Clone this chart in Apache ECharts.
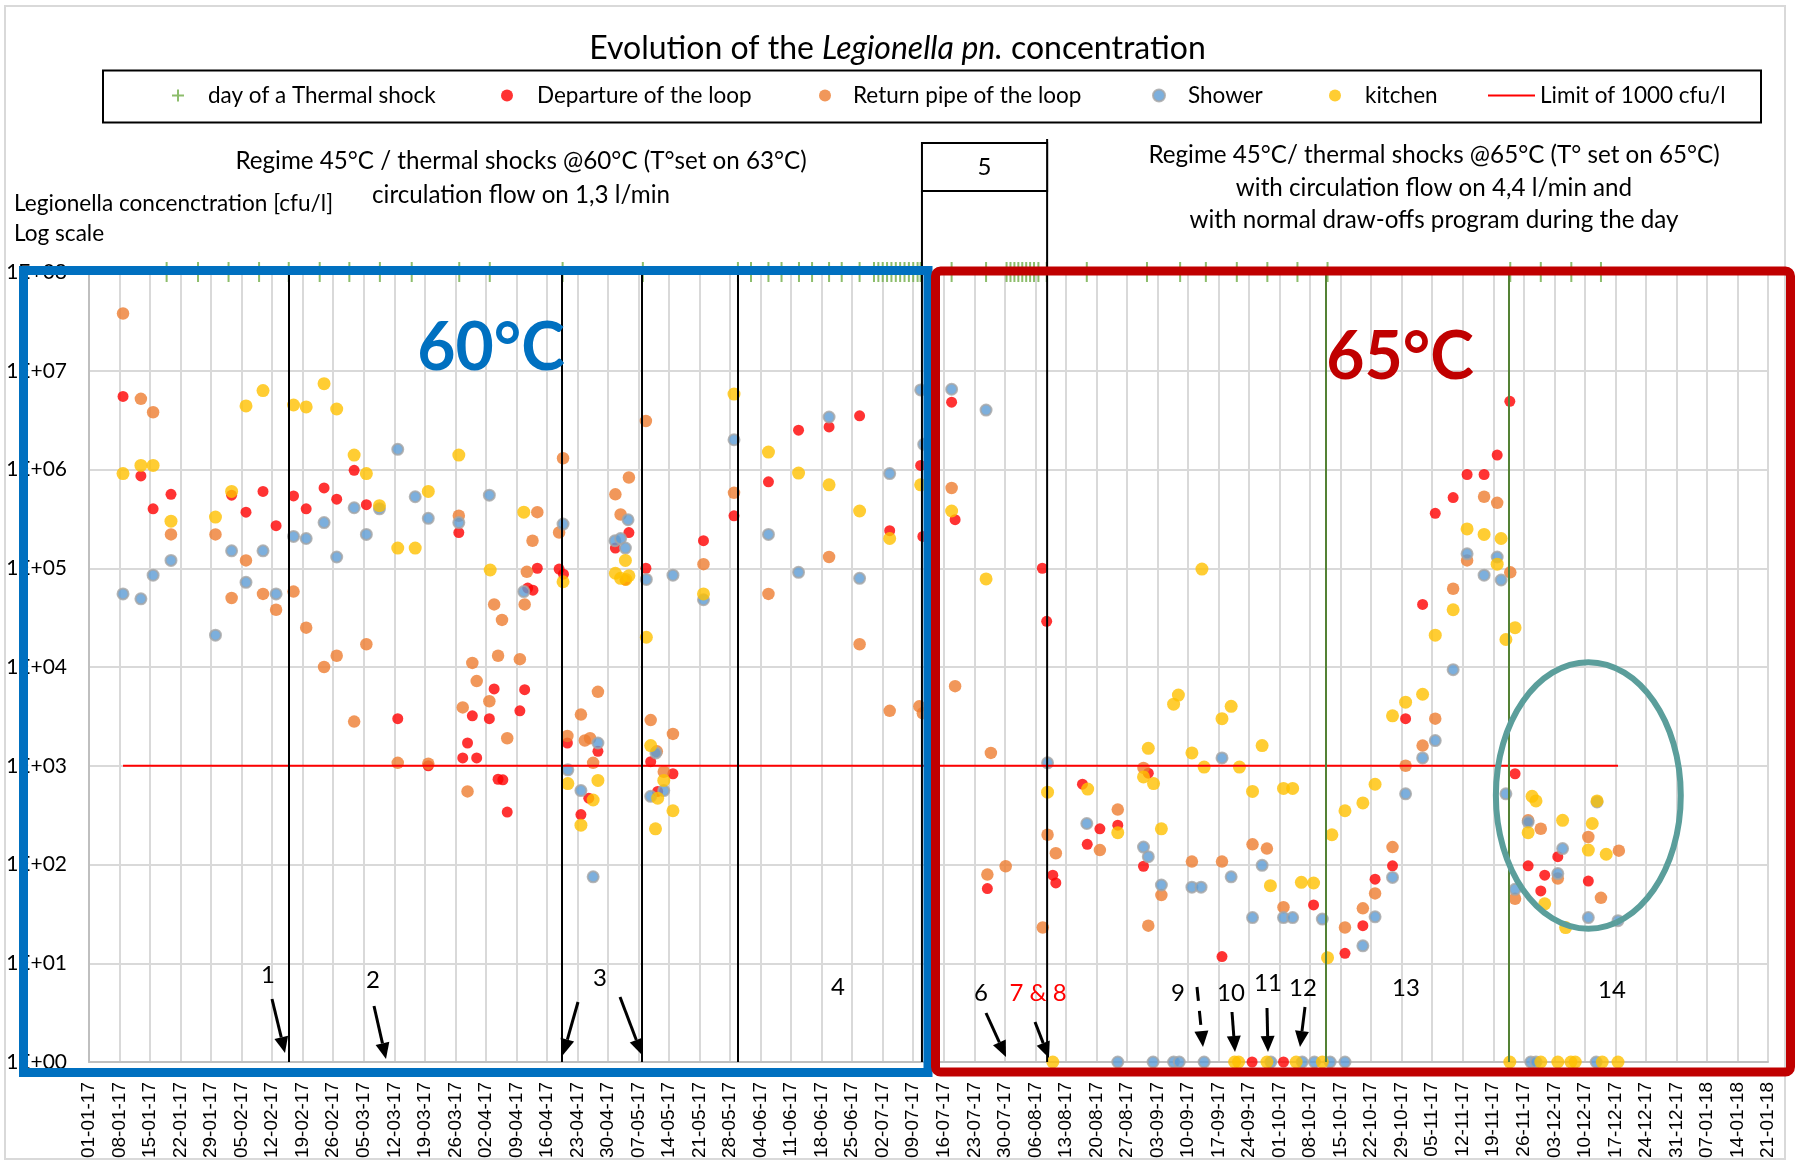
<!DOCTYPE html>
<html><head><meta charset="utf-8">
<script src="https://cdn.jsdelivr.net/npm/echarts@6/dist/echarts.min.js"></script>
<style>html,body{margin:0;padding:0;background:#fff}#c{width:1795px;height:1163px}</style>
</head><body><div id="c"></div>
<script>
// ---------- DATA ----------
// x values are days since 01-01-17, y values in cfu/l (1 = not detected, drawn at 1E+00)
const tickLabels = ['01-01-17','08-01-17','15-01-17','22-01-17','29-01-17','05-02-17','12-02-17','19-02-17','26-02-17','05-03-17','12-03-17','19-03-17','26-03-17','02-04-17','09-04-17','16-04-17','23-04-17','30-04-17','07-05-17','14-05-17','21-05-17','28-05-17','04-06-17','11-06-17','18-06-17','25-06-17','02-07-17','09-07-17','16-07-17','23-07-17','30-07-17','06-08-17','13-08-17','20-08-17','27-08-17','03-09-17','10-09-17','17-09-17','24-09-17','01-10-17','08-10-17','15-10-17','22-10-17','29-10-17','05-11-17','12-11-17','19-11-17','26-11-17','03-12-17','10-12-17','17-12-17','24-12-17','31-12-17','07-01-18','14-01-18','21-01-18'];
const yTickLabels = ['1E+00','1E+01','1E+02','1E+03','1E+04','1E+05','1E+06','1E+07','1E+08'];

const thermalShockDays = [17.8,25,32,39,45.8,52.9,59.7,66.7,74,84.9,91.9,108.6,127,148.8,151.8,155.8,158.8,162.8,165.8,169.7,172.6,176.7,180,181,182,183,184,185,186,187,188,189,190,190.7,197.8,205.7,210.4,211.3,212.2,213.1,214,214.9,215.8,216.7,217.7,219.6,228.8,242.6,250.2,256.1,263.2,270.2,277.1,284,325.9,332.9,339.9,346.7];
const thermalShockLevel = 1e8;

const departure = [[7.8,5.5e6],[11.9,8.6e5],[14.7,4.0e5],[18.8,5.6e5],[32.7,5.5e5],[36,3.7e5],[39.9,6.0e5],[42.9,2.7e5],[46.9,5.4e5],[49.8,4.0e5],[53.9,6.5e5],[56.8,5.0e5],[60.8,9.8e5],[63.6,4.4e5],[70.8,3.0e3],[77.8,1.0e3],[84.8,2.3e5],[85.7,1.2e3],[86.8,1.7e3],[87.9,3.2e3],[88.9,1.2e3],[91.8,3.0e3],[92.9,6.0e3],[93.8,7.3e2],[94.9,7.2e2],[95.9,3.4e2],[98.8,3.6e3],[99.9,5.9e3],[100.6,6.3e4],[101.8,6.0e4],[102.8,1.0e5],[107.8,9.8e4],[108.8,8.7e4],[109.7,1.7e3],[112.8,3.2e2],[114.6,4.7e2],[116.7,1.4e3],[120.7,1.6e5],[123,7.6e4],[123.8,2.3e5],[127.7,1.0e5],[128.8,1.1e3],[130.4,5.5e2],[133.9,8.3e2],[140.9,1.9e5],[147.9,3.4e5],[155.8,7.5e5],[162.7,2.5e6],[169.7,2.7e6],[176.7,3.5e6],[183.6,2.4e5],[190.7,1.1e6],[191.2,2.1e5],[197.8,4.8e6],[198.6,3.1e5],[206,57],[218.6,1.0e5],[219.6,2.9e4],[221,78],[221.7,65],[227.8,6.5e2],[228.9,1.6e2],[231.8,2.3e2],[235.9,2.5e2],[241.8,96],[242.9,8.4e2],[259.8,11.7],[266.7,1],[273.9,1],[280.8,39],[288,12.6],[292.1,24],[294.9,71],[298.9,97],[301.9,3.0e3],[305.8,4.3e4],[308.7,3.6e5],[312.8,5.2e5],[316,8.9e5],[319.9,8.9e5],[322.9,1.4e6],[325.8,4.9e6],[327,8.3e2],[330,97],[332.9,54],[333.8,78],[336.8,1.2e2],[343.8,68]];

const returnPipe = [[7.8,3.8e7],[11.9,5.2e6],[14.7,3.8e6],[18.8,2.2e5],[29,2.2e5],[32.7,5.0e4],[36,1.2e5],[39.9,5.5e4],[42.9,3.8e4],[46.9,5.8e4],[49.8,2.5e4],[53.9,1.0e4],[56.8,1.3e4],[60.8,2.8e3],[63.6,1.7e4],[70.8,1.07e3],[77.8,1.05e3],[84.8,3.4e5],[85.7,3.9e3],[86.8,5.5e2],[87.9,1.1e4],[88.9,7.2e3],[91.8,4.5e3],[92.9,4.3e4],[93.8,1.3e4],[94.7,3.0e4],[95.9,1.9e3],[98.8,1.2e4],[99.9,4.3e4],[100.4,9.2e4],[101.7,1.9e5],[102.8,3.7e5],[107.8,2.3e5],[108.7,1.3e6],[109.7,2.0e3],[112.8,3.3e3],[113.7,1.8e3],[114.9,1.9e3],[115.6,1.07e3],[116.7,5.6e3],[120.7,5.6e5],[121.9,3.5e5],[123.8,8.3e5],[127.7,3.1e6],[128.8,2.9e3],[130.2,1.4e3],[131.8,8.7e2],[133.9,2.1e3],[140.9,1.1e5],[147.9,5.8e5],[155.8,5.5e4],[169.7,1.3e5],[176.7,1.7e4],[183.6,3.6e3],[190.4,4.0e3],[191.2,3.4e3],[197.8,6.5e5],[198.6,6.4e3],[206,79],[206.8,1.35e3],[210.2,96],[218.7,23],[219.8,2.0e2],[221.7,1.3e2],[231.8,1.4e2],[235.9,3.6e2],[241.8,9.5e2],[242.9,24],[245.9,49],[252.9,1.07e2],[259.8,1.07e2],[266.8,1.6e2],[270.1,1.45e2],[273.9,37],[288,23],[292.1,36],[294.9,51],[298.9,1.5e2],[301.9,1.0e3],[305.8,1.6e3],[308.7,3.0e3],[312.8,6.2e4],[316,1.2e5],[319.9,5.3e5],[322.9,4.6e5],[325.9,9.1e4],[327,45],[330,2.8e2],[332.9,2.3e2],[336.8,72],[343.8,1.9e2],[346.7,46],[350.8,1.38e2]];

const shower = [[7.8,5.5e4],[11.9,4.9e4],[14.7,8.5e4],[18.8,1.2e5],[29,2.1e4],[32.7,1.5e5],[36,7.2e4],[39.9,1.5e5],[42.9,5.5e4],[46.9,2.1e5],[49.8,2.0e5],[53.9,2.9e5],[56.8,1.3e5],[60.8,4.1e5],[63.6,2.2e5],[66.6,4.0e5],[70.8,1.6e6],[74.8,5.3e5],[77.8,3.2e5],[84.8,2.9e5],[91.8,5.5e5],[99.7,5.8e4],[108.7,2.8e5],[109.8,9.1e2],[112.8,5.6e2],[115.6,75],[116.7,1.7e3],[120.6,1.9e5],[121.9,2.0e5],[123,1.6e5],[123.6,3.1e5],[127.8,7.7e4],[128.8,4.9e2],[130,1.35e3],[131.8,5.6e2],[133.9,8.5e4],[140.9,4.8e4],[147.9,2.0e6],[155.8,2.2e5],[162.7,9.1e4],[169.7,3.4e6],[176.7,7.9e4],[183.6,9.1e5],[190.7,6.4e6],[191.4,1.8e6],[197.8,6.5e6],[205.7,4.0e6],[219.8,1.07e3],[228.8,2.6e2],[235.9,1],[241.8,1.5e2],[242.9,1.2e2],[244,1],[245.9,62],[248.7,1],[250,1],[252.9,59],[255,59],[255.7,1],[259.8,1.2e3],[261.9,75],[266.8,29],[269,98],[271,1],[273.9,29],[276,29],[278.2,1],[281,1],[282.8,28],[284.6,1],[288,1],[292.1,15],[294.9,29.5],[298.9,74],[301.9,5.2e2],[305.8,1.2e3],[308.7,1.8e3],[312.8,9.4e3],[316,1.4e5],[319.9,8.5e4],[322.9,1.3e5],[323.8,7.6e4],[324.9,5.2e2],[327,56],[330,2.7e2],[330.6,1],[331.8,1],[336.8,81],[337.9,1.45e2],[343.8,29],[345.6,1],[345.8,4.3e2],[350.6,27]];

const kitchen = [[7.8,9.1e5],[11.9,1.1e6],[14.7,1.1e6],[18.8,3.0e5],[29,3.3e5],[32.7,6.0e5],[36,4.4e6],[39.9,6.3e6],[46.9,4.5e6],[49.8,4.3e6],[53.9,7.4e6],[56.8,4.1e6],[60.8,1.4e6],[63.6,9.1e5],[66.6,4.3e5],[70.8,1.6e5],[74.8,1.6e5],[77.8,6.0e5],[84.8,1.4e6],[92,9.6e4],[99.7,3.7e5],[108.7,7.3e4],[109.8,6.6e2],[112.8,2.5e2],[115.6,4.5e2],[116.7,7.1e2],[120.7,8.9e4],[121.9,7.9e4],[123,1.2e5],[123.1,7.7e4],[123.8,8.4e4],[127.8,2.0e4],[128.8,1.6e3],[129.9,2.3e2],[130.4,4.7e2],[131.8,7.1e2],[133.9,3.5e2],[140.9,5.5e4],[147.9,5.8e6],[155.8,1.5e6],[162.7,9.2e5],[169.7,7.0e5],[176.7,3.8e5],[183.6,2.0e5],[190.7,7.0e5],[197.8,3.8e5],[205.7,7.8e4],[219.8,5.4e2],[221,1],[229,5.8e2],[235.9,2.1e2],[241.8,7.7e2],[242.9,1.5e3],[244.1,6.6e2],[245.9,2.3e2],[248.7,4.2e3],[249.8,5.2e3],[252.9,1.35e3],[255.2,9.8e4],[255.7,9.7e2],[259.8,3.0e3],[261.9,4.0e3],[262.7,1],[263.6,1],[263.8,9.7e2],[266.8,5.5e2],[269,1.6e3],[270.1,1],[270.9,61],[273.9,5.9e2],[276,5.9e2],[276.8,1],[278,66],[280.8,65],[282.8,1],[284,11.4],[285,2.0e2],[288,3.5e2],[292.1,4.2e2],[294.9,6.5e2],[298.9,3.2e3],[301.9,4.4e3],[305.8,5.3e3],[308.7,2.1e4],[312.8,3.8e4],[316,2.5e5],[319.9,2.2e5],[322.9,1.1e5],[323.8,2.0e5],[324.9,1.9e4],[325.8,1],[327,2.5e4],[330,2.1e2],[330.9,4.9e2],[331.8,4.4e2],[332.9,1],[333.8,40],[336.8,1],[337.9,2.8e2],[338.6,23],[339.8,1],[340.8,1],[343.8,1.4e2],[344.7,2.6e2],[345.8,4.4e2],[347,1],[347.9,1.27e2],[350.6,1]];

const limitValue = 1000;
const limitDays = [7.8, 350.6];

const eventLineDays = [45.9, 108.4, 126.8, 148.7];       // black event lines
const stepLineDays = [283.6, 325.6];                      // green lines
const box5Days = [191, 219.7];                            // period 5
const clusterEllipse = {day: 343.8, value: 500, halfDays: 21.2, halfDecades: 1.35};

// ---------- STYLE ----------
const FONT = 'Lato, "Liberation Sans", sans-serif';
const C = {red:'#FF0000', orange:'#ED7D31', blue:'#5B9BD5', yellow:'#FFC000', green:'#70AD47'};
const plusPath = 'path://M5,0H7V5H12V7H7V12H5V7H0V5H5Z';
const tallPlus = 'path://M4,0H6V9H10V11H6V20H4V11H0V9H4Z';

function legendItem(name, left, icon, w, h, pad) {
  return {data:[{name, icon}], left, top:84, padding:0, itemWidth:w, itemHeight:h, selectedMode:false,
    textStyle:{fontSize:22.5, fontFamily:FONT, color:'#000', padding:[0,0,0,pad]}};
}

const chart = echarts.init(document.getElementById('c'));
const option = {
  animation:false,
  backgroundColor:'#fff',
  title:{
    text:'{a|Evolution of the }{b|Legionella pn.}{a| concentration}',
    left:'center', top:28,
    textStyle:{fontWeight:'normal', rich:{a:{fontSize:32,fontFamily:FONT,fontWeight:'normal',color:'#000'},b:{fontSize:32,fontFamily:FONT,fontStyle:'italic',fontWeight:'normal',color:'#000'}}}
  },
  legend:[
    legendItem('day of a Thermal shock',172,plusPath,12,12,19),
    legendItem('Departure of the loop',501,'circle',12,12,19),
    legendItem('Return pipe of the loop',819,'circle',12,12,17),
    legendItem('Shower',1152,'circle',12,12,18),
    legendItem('kitchen',1329,'circle',12,12,19),
    legendItem('Limit of 1000 cfu/l',1488,'path://M0,0H47V2H0Z',47,2,0)
  ],
  grid:{left:89, right:27, top:272, bottom:101, containLabel:false, outerBoundsMode:'none'},
  xAxis:{
    type:'value', min:0, max:385, interval:7,
    axisLine:{show:true, lineStyle:{color:'#BFBFBF', width:2}},
    axisTick:{show:false},
    splitLine:{show:true, lineStyle:{color:'#D9D9D9', width:2}},
    axisLabel:{rotate:90, margin:20, fontSize:19, fontFamily:'"Liberation Sans", Arial, sans-serif', color:'#000',
      formatter:v => tickLabels[Math.round(v/7)] || ''}
  },
  yAxis:{
    type:'log', logBase:10, min:1, max:1e8, splitNumber:8,
    axisLine:{show:true, lineStyle:{color:'#BFBFBF', width:2}},
    axisTick:{show:false},
    splitLine:{show:true, lineStyle:{color:'#D9D9D9', width:2}},
    axisLabel:{margin:22, fontSize:21, fontFamily:FONT, color:'#000',
      formatter:v => yTickLabels[Math.round(Math.log10(v))] || ''}
  },
  series:[
    {name:'Limit of 1000 cfu/l', type:'line', data:limitDays.map(d=>[d,limitValue]), symbol:'none',
      color:C.red, lineStyle:{color:C.red, width:2}, silent:true,
      markLine:{silent:true, symbol:['none','none'], label:{show:false},
        data:[...eventLineDays.map(d=>({xAxis:d, lineStyle:{color:'#000', width:2, type:'solid'}})),
              ...stepLineDays.map(d=>({xAxis:d, lineStyle:{color:'#548235', width:2, type:'solid'}}))]}},
    {name:'day of a Thermal shock', type:'scatter', clip:false, symbol:tallPlus, symbolSize:[10,20],
      itemStyle:{color:C.green}, data:thermalShockDays.map(d=>[d,thermalShockLevel])},
    {name:'Departure of the loop', type:'scatter', clip:false, symbolSize:11, itemStyle:{color:C.red}, data:departure},
    {name:'Return pipe of the loop', type:'scatter', clip:false, symbolSize:12.5, itemStyle:{color:C.orange}, data:returnPipe},
    {name:'Shower', type:'scatter', clip:false, symbolSize:11, itemStyle:{color:C.blue, borderColor:'#A5A5A5', borderWidth:2}, data:shower},
    {name:'kitchen', type:'scatter', clip:false, symbolSize:13, itemStyle:{color:C.yellow}, data:kitchen}
  ]
};
chart.setOption(option);

// ---------- ANNOTATIONS ----------
const xPix = d => chart.convertToPixel({xAxisIndex:0}, d);
const yPix = v => chart.convertToPixel({yAxisIndex:0}, v);
const gTop = yPix(1e8), gBot = yPix(1);

function txt(text, x, y, size, opts) {
  return Object.assign({type:'text', x, y, z:30, silent:true,
    style:Object.assign({text, fontSize:size, fontFamily:FONT, fill:'#000', align:'center', verticalAlign:'middle'}, (opts||{}))});
}
function arrow(x1,y1,x2,y2,dashed){
  const a = Math.atan2(y2-y1,x2-x1), L=16, W=7;
  const bx = x2-L*Math.cos(a), by = y2-L*Math.sin(a);
  const px = -Math.sin(a)*W, py = Math.cos(a)*W;
  return [
    {type:'line', z:30, silent:true, shape:{x1,y1,x2:bx,y2:by}, style:{stroke:'#000', lineWidth:3, lineDash:dashed?[14,10]:null}},
    {type:'polygon', z:30, silent:true, shape:{points:[[x2,y2],[bx+px,by+py],[bx-px,by-py]]}, style:{fill:'#000'}}
  ];
}
const arrows = [[272,999,285,1053],[374,1006,386,1059],[578,1002,563,1055],[620,997,642,1055],
  [986,1013,1006,1057],[1035,1022,1049,1058],[1197,987,1203,1047,true],[1232,1012,1235,1052],
  [1267,1008,1268,1052],[1305,1007,1300,1047]];
const numLabels = [['1',268,975],['2',373,980],['3',600,978],['4',838,987],['6',981,993],['9',1178,993],
  ['10',1231,993],['11',1268,983],['12',1303,988],['13',1406,988],['14',1612,990]];

const xL = xPix(box5Days[0]), xR = xPix(box5Days[1]);
const ex = xPix(clusterEllipse.day), ey = yPix(clusterEllipse.value);
const erx = xPix(clusterEllipse.day + clusterEllipse.halfDays) - ex;
const ery = yPix(clusterEllipse.value / Math.pow(10, clusterEllipse.halfDecades)) - ey;

const g = [
  {type:'rect', z:-1, silent:true, shape:{x:5,y:6,width:1780,height:1153}, style:{fill:'none', stroke:'#D9D9D9', lineWidth:2}},
  {type:'rect', z:30, silent:true, shape:{x:103,y:70.5,width:1658,height:52}, style:{fill:'none', stroke:'#000', lineWidth:2}},
  txt('Regime 45°C / thermal shocks @60°C (T°set on 63°C)', 521, 161, 24.2),
  txt('circulation flow on 1,3 l/min', 521, 195, 24.2),
  txt('Regime 45°C/ thermal shocks @65°C (T° set on 65°C)', 1434, 155, 24.2),
  txt('with circulation flow on 4,4 l/min and', 1434, 188, 24.2),
  txt('with normal draw-offs program during the day', 1434, 220, 24.2),
  txt('Legionella concenctration [cfu/l]', 14, 204, 22.6, {align:'left'}),
  txt('Log scale', 14, 234, 22.6, {align:'left'}),
  // period boxes
  {type:'rect', z:25, silent:true, shape:{x:23.5,y:270.5,width:904.5,height:802}, style:{fill:'none', stroke:'#0070C0', lineWidth:9}},
  {type:'rect', z:26, silent:true, shape:{x:935.5,y:271,width:855,height:801,r:5}, style:{fill:'none', stroke:'#C00000', lineWidth:9}},
  txt('60°C', 491, 349, 66, {fill:'#0070C0', fontWeight:'bold'}),
  txt('65°C', 1400, 358, 66, {fill:'#C00000', fontWeight:'bold'}),
  // period 5 box and its lines
  {type:'rect', z:30, silent:true, shape:{x:xL,y:143,width:xR-xL,height:48}, style:{fill:'#fff', stroke:'#000', lineWidth:2}},
  {type:'line', z:24, silent:true, shape:{x1:xL,y1:191,x2:xL,y2:gBot}, style:{stroke:'#000', lineWidth:2}},
  {type:'line', z:24, silent:true, shape:{x1:xR,y1:139,x2:xR,y2:gBot}, style:{stroke:'#000', lineWidth:2}},
  txt('5', (xL+xR)/2, 167, 24),
  // cluster ellipse
  {type:'ellipse', z:30, silent:true, shape:{cx:ex, cy:ey, rx:erx, ry:ery}, style:{fill:'none', stroke:'#5B9E9B', lineWidth:6}},
  txt('7 & 8', 1038, 993, 24, {fill:'#FF0000'})
];
numLabels.forEach(l => g.push(txt(l[0], l[1], l[2], 24)));
arrows.forEach(a => g.push(...arrow(a[0],a[1],a[2],a[3],a[4])));
chart.setOption({graphic:g});
</script>
</body></html>
